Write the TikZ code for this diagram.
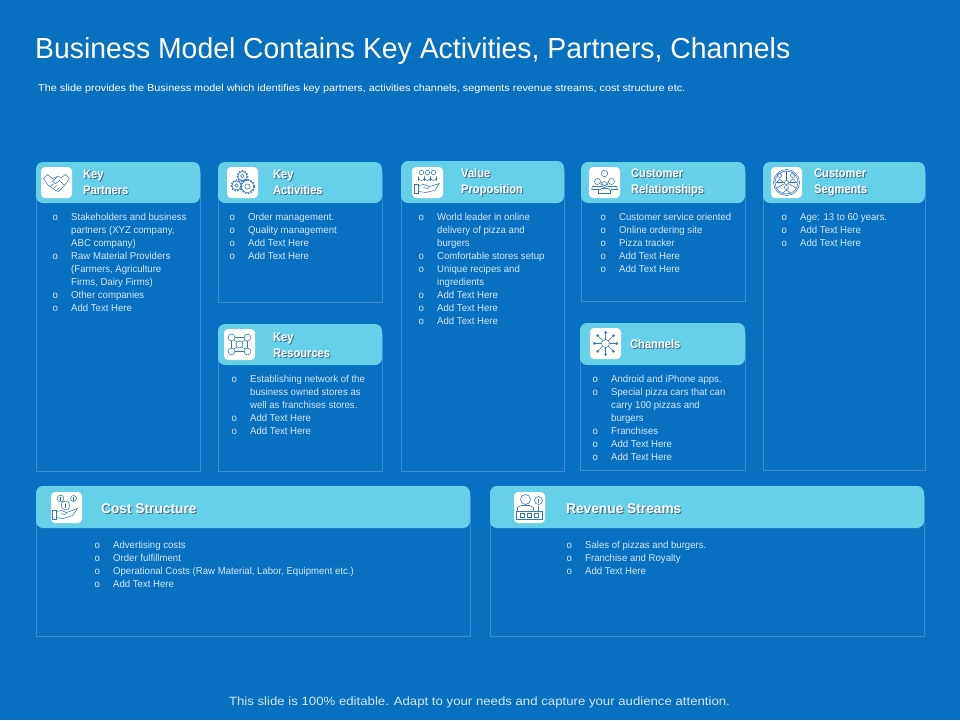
\documentclass[tikz,border=0pt]{standalone}
\usepackage{fontspec}
\setmainfont{Liberation Sans}
\newfontfamily\titlefont[FakeStretch=0.978]{Liberation Sans}
\newfontfamily\subfont[FakeStretch=1.084]{Liberation Sans}
\newfontfamily\footfont[FakeStretch=1.10]{Liberation Sans}
\newfontfamily\headfont[FakeStretch=0.89]{Liberation Sans}
\newfontfamily\bigheadfont[FakeStretch=0.98]{Liberation Sans}
\newfontfamily\listfont[FakeStretch=0.96]{Liberation Sans}
\definecolor{bgblue}{HTML}{0770C0}
\definecolor{headblue}{HTML}{67D0E9}
\definecolor{edgeblue}{HTML}{3A8CCF}
\definecolor{listtxt}{HTML}{D5E8F6}
\definecolor{iconblue}{HTML}{2F78B8}
\definecolor{shadowgray}{HTML}{3F6F88}
\tikzset{
  panelbox/.style={draw=edgeblue,line width=.6pt},
  headbox/.style={fill=headblue,rounded corners=7pt},
  iconbox/.style={fill=white,rounded corners=4pt},
  listnode/.style={anchor=north west,inner sep=0pt,align=left,text=listtxt,font=\listfont\fontsize{10}{13}\selectfont},
  headnode/.style={anchor=west,inner sep=0pt,align=left,text=white,font=\headfont\bfseries\fontsize{12.5}{16}\selectfont},
  bighead/.style={anchor=west,inner sep=0pt,text=white,font=\bigheadfont\bfseries\fontsize{14}{16}\selectfont},
  ic/.style={draw=iconblue,line width=.55pt,fill=none},
}
\newcommand{\bi}{\makebox[18.5pt][l]{o}}
\newcommand{\ci}{\hspace*{18.5pt}}
\newcommand{\shd}[1]{\makebox[0pt][l]{\raisebox{-1pt}{\hspace*{1pt}\textcolor{shadowgray}{#1}}}#1}
% x0 x1 ytop yhead ybottom iconx icony
\newcommand{\card}[7]{%
  \draw[panelbox] (#1,#3+10) rectangle (#2,#5);
  \fill[headbox] (#1,#3) rectangle (#2,#4);
  \fill[iconbox] (#6,#7) rectangle ++(31,31);
}
\begin{document}
\begin{tikzpicture}[x=1pt,y=-1pt]
\useasboundingbox (0,0) rectangle (960,720);
\fill[bgblue] (0,0) rectangle (960,720);
\node[anchor=west,inner sep=0pt,text=white,font=\titlefont\fontsize{29}{32}\selectfont] (title) at (35,51.5) {Business Model Contains Key Activities, Partners, Channels};
\node[anchor=west,inner sep=0pt,text=white,font=\subfont\fontsize{10}{12}\selectfont] (sub) at (38,89) {The slide provides the Business model which identifies key partners, activities channels, segments revenue streams, cost structure etc.};

\card{36}{200}{162}{203}{471}{41}{167}
\card{218}{382}{162}{203}{302}{227}{167}
\card{218}{382}{324}{365}{471}{224}{329}
\card{401}{564}{161}{203}{471}{412}{167}
\card{581}{745}{162}{203}{301}{589}{167}
\card{580}{745}{323}{365}{470}{590}{328}
\card{763}{925}{162}{203}{470}{771}{167}
\card{36}{470}{486}{528}{636}{51}{492}
\card{490}{924}{486}{528}{636}{514}{492}

\node[headnode] (h1) at (83,183) {\shd{Key}\\\shd{Partners}};
\node[headnode] (h2) at (273,183) {\shd{Key}\\\shd{Activities}};
\node[headnode] (h3) at (273,345.5) {\shd{Key}\\\shd{Resources}};
\node[headnode] (h4) at (461,183) {\shd{Value}\\\shd{Proposition}};
\node[headnode] (h5) at (631,183) {\shd{Customer}\\\shd{Relationships}};
\node[headnode] (h6) at (630,345) {\shd{Channels}};
\node[headnode] (h7) at (814,183) {\shd{Customer}\\\shd{Segments}};
\node[bighead] (h8) at (101,509.5) {\shd{Cost Structure}};
\node[bighead] (h9) at (566,509) {\shd{Revenue Streams}};

\node[listnode] (l1) at (52.5,213) {\bi Stakeholders and business\\\ci partners (XYZ company,\\\ci ABC company)\\\bi Raw Material Providers\\\ci (Farmers, Agriculture\\\ci Firms, Dairy Firms)\\\bi Other companies\\\bi Add Text Here};
\node[listnode] (l2) at (229.5,213) {\bi Order management.\\\bi Quality management\\\bi Add Text Here\\\bi Add Text Here};
\node[listnode] (l3) at (231.5,375) {\bi Establishing network of the\\\ci business owned stores as\\\ci well as franchises stores.\\\bi Add Text Here\\\bi Add Text Here};
\node[listnode] (l4) at (418.5,213) {\bi World leader in online\\\ci delivery of pizza and\\\ci burgers\\\bi Comfortable stores setup\\\bi Unique recipes and\\\ci ingredients\\\bi Add Text Here\\\bi Add Text Here\\\bi Add Text Here};
\node[listnode] (l5) at (600.5,213) {\bi Customer service oriented\\\bi Online ordering site\\\bi Pizza tracker\\\bi Add Text Here\\\bi Add Text Here};
\node[listnode] (l6) at (592.5,375) {\bi Android and iPhone apps.\\\bi Special pizza cars that can\\\ci carry 100 pizzas and\\\ci burgers\\\bi Franchises\\\bi Add Text Here\\\bi Add Text Here};
\node[listnode] (l7) at (781.5,213) {\bi Age: 13 to 60 years.\\\bi Add Text Here\\\bi Add Text Here};
\node[listnode] (l8) at (94.5,541) {\bi Advertising costs\\\bi Order fulfillment\\\bi Operational Costs (Raw Material, Labor, Equipment etc.)\\\bi Add Text Here};
\node[listnode] (l9) at (566.5,541) {\bi Sales of pizzas and burgers.\\\bi Franchise and Royalty\\\bi Add Text Here};

\node[anchor=center,inner sep=0pt,text=listtxt,font=\footfont\fontsize{12}{14}\selectfont] (foot) at (479.5,702) {This slide is 100\% editable. Adapt to your needs and capture your audience attention.};

% handshake
\begin{scope}[shift={(56.5,182.5)},ic]
\draw (-13,-4) -- (-9,-8) -- (-4,-4) -- (1,-6) -- (5,-5) -- (9,-8) -- (13,-4) -- (8,3) -- (2,9) -- (-1,8) -- (-9,2) -- cycle;
\draw (-4,-1) -- (1,-6); \draw (-4,-1) -- (-1,1) -- (3,-2) -- (8,3);
\draw (-6,4) -- (-3,1); \draw (-3,6) -- (0,3); \draw (0,8) -- (3,5);
\end{scope}
% gears
\begin{scope}[shift={(242.5,182.5)},ic]
\draw (0,-6.5) circle (4.5) (0,-6.5) circle (1.8);
\draw (-6,3) circle (4.5) (-6,3) circle (1.8);
\draw (5,4) circle (6) (5,4) circle (2.6);
\draw[dash pattern=on 1.5pt off 1.5pt,line width=1.2pt] (0,-6.5) circle (5.4) (-6,3) circle (5.4) (5,4) circle (7);
\end{scope}
% network
\begin{scope}[shift={(239.5,344.5)},ic]
\foreach \p in {(-8,-7),(8,-7),(-8,7),(8,7),(0,0)} {\draw \p circle (3.4);}
\draw (-4.6,-7) -- (4.6,-7) (-4.6,7) -- (4.6,7) (-8,-3.6) -- (-8,3.6) (8,-3.6) -- (8,3.6);
\draw (-5.5,-4.5) -- (-2.4,-2.4) (5.5,-4.5) -- (2.4,-2.4) (-5.5,4.5) -- (-2.4,2.4) (5.5,4.5) -- (2.4,2.4);
\end{scope}
% value
\begin{scope}[shift={(427.5,182.5)},ic]
\foreach \x in {-6,0,6} {\draw (\x,-10) circle (2.2); \draw (\x-3,-2) -- (\x-3,-5) arc[start angle=180,end angle=0,radius=3] -- (\x+3,-2);}
\draw (-13,2) rectangle (-9,11);
\draw (-9,3) -- (-4,2) -- (2,4) -- (12,1) -- (7,8) -- (-2,10) -- (-9,9);
\draw (2,4) -- (0,6) -- (-4,5);
\end{scope}
% relationships
\begin{scope}[shift={(604.5,182.5)},ic]
\draw (0,-9) circle (3.2); \draw (-4,-1) arc[start angle=180,end angle=0,radius=4];
\foreach \x/\y in {-7/-1,7/-1,0/2} {\draw (\x,\y) circle (3);}
\draw (-13,7) -- (-12,4) -- (-3,4) ; \draw (13,7) -- (12,4) -- (3,4);
\draw (-13,7) -- (-6,7) (13,7) -- (6,7);
\draw (-6,11) -- (-6,8) -- (-3,6) -- (3,6) -- (6,8) -- (6,11) -- cycle;
\end{scope}
% channels
\begin{scope}[shift={(605.5,343.5)},ic]
\draw (0,0) circle (4);
\foreach \a in {0,45,...,315} {\draw (\a:4) -- (\a:10); \fill[iconblue] (\a:11) circle (1.5);}
\end{scope}
% segments
\begin{scope}[shift={(786.5,182.5)},ic]
\draw (0,0) circle (13) (0,0) circle (11.5) (0,0) circle (2);
\draw (0,-2) -- (0,-11.5) (1.7,1) -- (10,5.7) (-1.7,1) -- (-10,5.7);
\draw (-7,-7) circle (2) (-10,0) -- (-7,-3.5) -- (-3,0) -- cycle;
\draw (6,-7) circle (2) (3,0) -- (6,-3.5) -- (10,0) -- cycle;
\draw (0,5) circle (2) (-4,11) -- (0,7.5) -- (4,11);
\end{scope}
% cost
\begin{scope}[shift={(66.5,507.5)},ic]
\draw (-6,-9) circle (3.4) (7,-9) circle (3) (-1,-2) circle (4.5);
\draw (-6,-11) -- (-6,-7) (7,-11) -- (7,-7) (-1,-4) -- (-1,0);
\draw (-14,3) rectangle (-10,12);
\draw (-10,4) -- (-5,3) -- (0,5) -- (11,1) -- (6,8) -- (-3,11) -- (-10,10);
\draw (0,5) -- (-2,7) -- (-5,6);
\end{scope}
% revenue
\begin{scope}[shift={(529.5,507.5)},ic]
\draw (-4,-8) circle (5);
\draw (-12,3) -- (-12,0) -- (-8,-2) -- (0,-2) -- (4,0) -- (4,3);
\draw (9,-7) circle (4); \draw (9,-9) -- (9,-5);
\draw (-13,4) -- (13,4) -- (13,12) -- (-13,12) -- cycle;
\draw (-9,6) rectangle (-5,10) (-2,6) rectangle (2,10) (5,6) rectangle (9,10);
\draw (9,-2) -- (9,3);
\end{scope}
\end{tikzpicture}
\end{document}
